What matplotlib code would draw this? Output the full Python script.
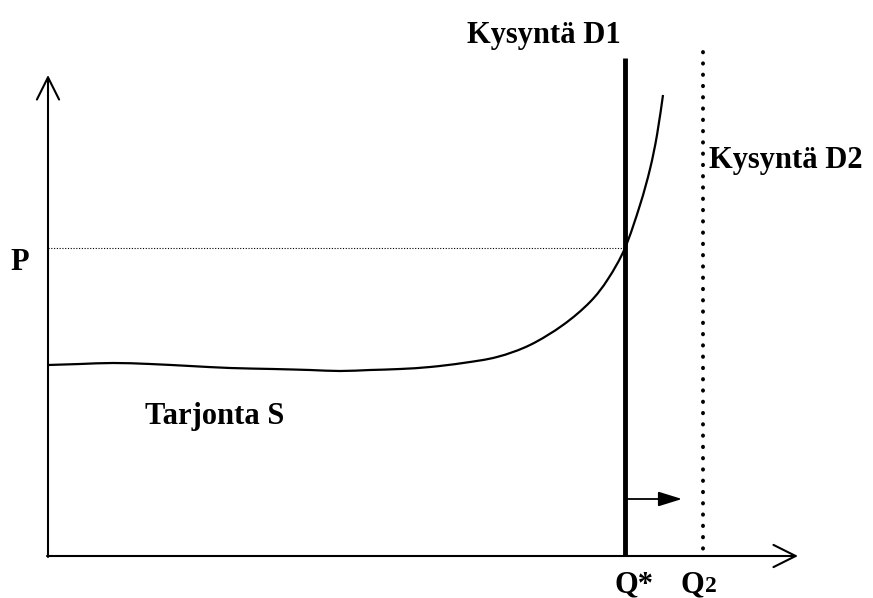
import matplotlib
matplotlib.use("Agg")
import matplotlib.pyplot as plt
from matplotlib.path import Path
from matplotlib.patches import PathPatch

# Supply curve S (quantity, price) in chart units (origin at axes corner)
supply_q = [0, 32, 65, 102, 142, 182, 225, 262, 292, 322, 352, 382, 415, 449,
            482, 515, 542, 560, 577, 592, 602, 609, 615]
supply_p = [191, 192, 193, 192, 190, 188, 187, 186, 185, 186, 187, 189, 193, 199,
            211, 231, 254, 277, 308, 351, 387, 421, 461]
q_star = 577
q2 = 655
p_eq = 308
d1_top = 498
d2_top = 504
x_axis_end = 750
y_axis_end = 481
shift_from, shift_to, shift_y = 579, 634, 57

FONT = "Liberation Serif"

fig = plt.figure(figsize=(8.73, 5.98), dpi=100)
ax = fig.add_axes([0, 0, 1, 1])
ax.set_xlim(-48, 825)
ax.set_ylim(-42, 556)
ax.axis("off")

# axes with open arrowheads
ax.annotate("", xy=(x_axis_end, 0), xytext=(-1, 0),
            arrowprops=dict(arrowstyle="->,head_length=1.6,head_width=0.8",
                            lw=1.5, color="black", shrinkA=0, shrinkB=0))
ax.annotate("", xy=(0, y_axis_end), xytext=(0, -1),
            arrowprops=dict(arrowstyle="->,head_length=1.6,head_width=0.8",
                            lw=1.5, color="black", shrinkA=0, shrinkB=0))

# P dotted line
ax.plot([0, q_star], [p_eq, p_eq], color="black", lw=0.8,
        linestyle=(0, (1, 1.5)))

# supply curve drawn as a smooth Bezier path through the read points
pts = list(zip(supply_q, supply_p))
verts = [pts[0]]
codes = [Path.MOVETO]
n = len(pts)
for i in range(n - 1):
    p0 = pts[i - 1] if i > 0 else pts[i]
    p1 = pts[i]
    p2 = pts[i + 1]
    p3 = pts[i + 2] if i + 2 < n else pts[i + 1]
    c1 = (p1[0] + (p2[0] - p0[0]) / 6, p1[1] + (p2[1] - p0[1]) / 6)
    c2 = (p2[0] - (p3[0] - p1[0]) / 6, p2[1] - (p3[1] - p1[1]) / 6)
    verts += [c1, c2, p2]
    codes += [Path.CURVE4] * 3
ax.add_patch(PathPatch(Path(verts, codes), facecolor="none",
                       edgecolor="black", lw=1.6))

# demand D1
ax.plot([q_star, q_star], [0, d1_top], color="black", lw=3.5,
        solid_capstyle="butt")

# demand D2 (dotted), drawn from the top down
ax.plot([q2, q2], [d2_top, 2], color="black", lw=2.8,
        linestyle=(0, (0.1, 2.8)), dash_capstyle="round")

# shift arrow
ax.annotate("", xy=(shift_to, shift_y), xytext=(shift_from, shift_y),
            arrowprops=dict(arrowstyle="-|>,head_length=1.45,head_width=0.45",
                            lw=1.3, color="black", shrinkA=0, shrinkB=0))

kw = dict(family=FONT, fontweight="bold", fontsize=22, color="black")
ax.text(544 - 48, 556 - 43, "Kysyntä D1", ha="center", va="baseline", **kw)
ax.text(709 - 48, 556 - 168, "Kysyntä D2", ha="left", va="baseline", **kw)
ax.text(20 - 48, 556 - 270, "P", ha="center", va="baseline", **kw)
ax.text(145 - 48, 556 - 424, "Tarjonta S", ha="left", va="baseline", **kw)
ax.text(615 - 48, 556 - 592, "Q*", ha="left", va="baseline", **kw)
ax.text(681 - 48, 556 - 592, "Q", ha="left", va="baseline", **kw)
ax.text(705 - 48, 556 - 592, "2", ha="left", va="baseline",
        family=FONT, fontweight="bold", fontsize=17, color="black")

fig.savefig("out.png", dpi=100)
